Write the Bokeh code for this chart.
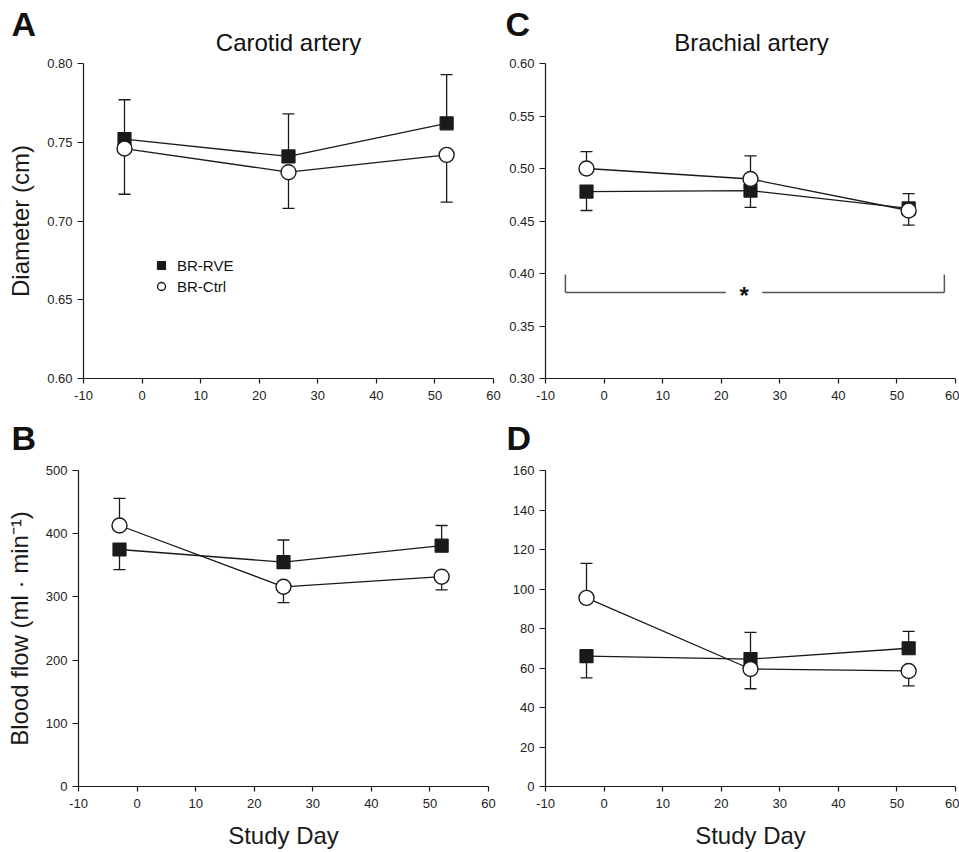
from bokeh.plotting import figure
from bokeh.layouts import column, row
from bokeh.models import Range1d, Label, Legend, LegendItem, FixedTicker, NumeralTickFormatter
from bokeh.embed import file_html
from bokeh.resources import INLINE

# ---------------- data ----------------
study_days = [-3, 25, 52]

# Panel A: carotid diameter (cm)
car_diam_rve = [0.752, 0.741, 0.762]
car_diam_rve_up = [0.025, 0.027, 0.031]
car_diam_rve_dn = [0.0, 0.0, 0.0]
car_diam_ctrl = [0.746, 0.731, 0.742]
car_diam_ctrl_up = [0.0, 0.0, 0.0]
car_diam_ctrl_dn = [0.029, 0.023, 0.030]

# Panel B: carotid blood flow (ml/min)
car_flow_rve = [375, 355, 381]
car_flow_rve_up = [0, 35, 32]
car_flow_rve_dn = [32, 0, 0]
car_flow_ctrl = [413, 316, 332]
car_flow_ctrl_up = [43, 0, 0]
car_flow_ctrl_dn = [0, 25, 21]

# Panel C: brachial diameter (cm)
bra_diam_rve = [0.478, 0.479, 0.462]
bra_diam_rve_up = [0.0, 0.0, 0.0]
bra_diam_rve_dn = [0.018, 0.016, 0.016]
bra_diam_ctrl = [0.500, 0.490, 0.460]
bra_diam_ctrl_up = [0.016, 0.022, 0.016]
bra_diam_ctrl_dn = [0.0, 0.0, 0.0]

# Panel D: brachial blood flow (ml/min)
bra_flow_rve = [66, 64.5, 70]
bra_flow_rve_up = [0, 13.5, 8.5]
bra_flow_rve_dn = [11, 0, 0]
bra_flow_ctrl = [95.5, 59.5, 58.5]
bra_flow_ctrl_up = [17.5, 0, 0]
bra_flow_ctrl_dn = [0, 10, 7.5]

x_ticks = [-10, 0, 10, 20, 30, 40, 50, 60]
diam_car_ticks = [0.60, 0.65, 0.70, 0.75, 0.80]
diam_bra_ticks = [0.30, 0.35, 0.40, 0.45, 0.50, 0.55, 0.60]
flow_car_ticks = [0, 100, 200, 300, 400, 500]
flow_bra_ticks = [0, 20, 40, 60, 80, 100, 120, 140, 160]

series_names = ["BR-RVE", "BR-Ctrl"]
panel_letters = ["A", "C", "B", "D"]
panel_titles = ["Carotid artery", "Brachial artery"]

# significance bracket in panel C (data coords)
sig_left, sig_right = -6.6, 58.1
sig_gap = (20.8, 27.0)
sig_y, sig_top = 0.382, 0.399
sig_star_x = 23.9

FONT = "Liberation Sans"
INK = "#1a1a1a"
TOTAL_W = 959


def make_fig(width, height, mbl, mbr, mbt, mbb, yr, yticks, yfmt, ylabel=None,
             xlabel=None):
    p = figure(width=width, height=height, x_range=Range1d(-10, 60),
               y_range=Range1d(*yr), output_backend="svg", toolbar_location=None,
               min_border_left=mbl, min_border_right=mbr, min_border_top=mbt,
               min_border_bottom=mbb)
    p.xgrid.visible = False
    p.ygrid.visible = False
    p.outline_line_color = None
    p.background_fill_color = "white"
    p.border_fill_color = "white"
    p.xaxis.ticker = FixedTicker(ticks=x_ticks)
    p.xaxis.formatter = NumeralTickFormatter(format="0")
    p.yaxis.ticker = FixedTicker(ticks=yticks)
    p.yaxis.formatter = NumeralTickFormatter(format=yfmt)
    for ax in (p.xaxis[0], p.yaxis[0]):
        ax.axis_line_color = INK
        ax.axis_line_width = 1.2
        ax.major_tick_line_color = INK
        ax.major_tick_line_width = 1.2
        ax.major_tick_in = 0
        ax.major_tick_out = 5
        ax.minor_tick_line_color = None
        ax.major_label_text_font = FONT
        ax.major_label_text_font_size = "13px"
        ax.major_label_text_color = "#222222"
        ax.axis_label_text_font = FONT
        ax.axis_label_text_font_size = "24px"
        ax.axis_label_text_font_style = "normal"
        ax.axis_label_text_color = INK
    p.yaxis.major_tick_out = 6
    p.yaxis.major_label_standoff = 5
    p.xaxis.major_label_standoff = 7
    if ylabel:
        p.yaxis.axis_label = ylabel
        p.yaxis.axis_label_standoff = 10
    if xlabel:
        p.xaxis.axis_label = xlabel
        p.xaxis.axis_label_standoff = 11
    return p


def draw_errors(p, ys, up, dn):
    lows = [y - d for y, d in zip(ys, dn)]
    highs = [y + u for y, u in zip(ys, up)]
    p.segment(x0=study_days, y0=lows, x1=study_days, y1=highs,
              line_color=INK, line_width=1.3)
    cap_x = [x for x, u in zip(study_days, up) if u > 0] + \
            [x for x, d in zip(study_days, dn) if d > 0]
    cap_y = [h for h, u in zip(highs, up) if u > 0] + \
            [l for l, d in zip(lows, dn) if d > 0]
    p.scatter(x=cap_x, y=cap_y, marker="dash", size=12, line_color=INK,
              line_width=1.3)


def panel(p, rve, rve_up, rve_dn, ctrl, ctrl_up, ctrl_dn):
    draw_errors(p, rve, rve_up, rve_dn)
    draw_errors(p, ctrl, ctrl_up, ctrl_dn)
    p.line(study_days, rve, line_color=INK, line_width=1.3)
    p.line(study_days, ctrl, line_color=INK, line_width=1.3)
    r1 = p.scatter(x=study_days, y=rve, marker="square", size=13,
                   fill_color=INK, line_color=INK, line_width=1.2)
    r2 = p.scatter(x=study_days, y=ctrl, marker="circle", size=15,
                   fill_color="white", line_color=INK, line_width=1.4)
    return r1, r2


def header(height, items):
    """A strip of free text (panel letters and titles) above a row of panels."""
    h = figure(width=TOTAL_W, height=height, x_range=Range1d(0, TOTAL_W),
               y_range=Range1d(height, 0), output_backend="svg",
               toolbar_location=None, x_axis_type=None, y_axis_type=None,
               min_border=0)
    h.xgrid.visible = False
    h.ygrid.visible = False
    h.outline_line_color = None
    h.background_fill_color = "white"
    h.border_fill_color = "white"
    for x, y, text, size, bold, align in items:
        h.add_layout(Label(x=x, y=y, text=text, text_font=FONT,
                           text_font_size=size,
                           text_font_style="bold" if bold else "normal",
                           text_color="#111111", text_align=align,
                           text_baseline="middle"))
    return h


# ---------------- header above A / C ----------------
head1 = header(55, [
    (11, 23, panel_letters[0], "34px", True, "left"),
    (288, 41.5, panel_titles[0], "24px", False, "center"),
    (505, 23, panel_letters[1], "34px", True, "left"),
    (751, 41.5, panel_titles[1], "24px", False, "center"),
])

# ---------------- panel A ----------------
pA = make_fig(505, 350, 83, 12, 8, 27, (0.60, 0.80), diam_car_ticks, "0.00",
              ylabel="Diameter (cm)")
rA1, rA2 = panel(pA, car_diam_rve, car_diam_rve_up, car_diam_rve_dn,
                 car_diam_ctrl, car_diam_ctrl_up, car_diam_ctrl_dn)
legend = Legend(items=[LegendItem(label=series_names[0], renderers=[rA1]),
                       LegendItem(label=series_names[1], renderers=[rA2])],
                location=(68, 82), background_fill_alpha=0, border_line_alpha=0,
                label_text_font=FONT, label_text_font_size="15px",
                label_text_color="#111111", glyph_width=20, glyph_height=20,
                spacing=1, padding=0, margin=0, label_standoff=6)
pA.add_layout(legend)

# ---------------- panel C ----------------
pC = make_fig(454, 350, 40, 4, 8, 27, (0.30, 0.60), diam_bra_ticks, "0.00")
panel(pC, bra_diam_rve, bra_diam_rve_up, bra_diam_rve_dn,
      bra_diam_ctrl, bra_diam_ctrl_up, bra_diam_ctrl_dn)
pC.segment(x0=[sig_left, sig_gap[1], sig_left, sig_right],
           y0=[sig_y, sig_y, sig_y, sig_y],
           x1=[sig_gap[0], sig_right, sig_left, sig_right],
           y1=[sig_y, sig_y, sig_top, sig_top],
           line_color="#555555", line_width=1.5)
pC.add_layout(Label(x=sig_star_x, y=sig_y, text="*", text_font=FONT,
                    text_font_size="24px", text_font_style="bold",
                    text_color="#111111", text_align="center",
                    text_baseline="middle", y_offset=-3))

# ---------------- header above B / D ----------------
head2 = header(58, [
    (11, 32, panel_letters[2], "34px", True, "left"),
    (506, 32, panel_letters[3], "34px", True, "left"),
])

# ---------------- panel B ----------------
pB = make_fig(505, 389, 78, 17, 7, 66, (0, 500), flow_car_ticks, "0",
              ylabel="Blood flow (ml \u00b7 min\u207b\u00b9)", xlabel="Study Day")
panel(pB, car_flow_rve, car_flow_rve_up, car_flow_rve_dn,
      car_flow_ctrl, car_flow_ctrl_up, car_flow_ctrl_dn)

# ---------------- panel D ----------------
pD = make_fig(454, 389, 40, 4, 7, 66, (0, 160), flow_bra_ticks, "0",
              xlabel="Study Day")
panel(pD, bra_flow_rve, bra_flow_rve_up, bra_flow_rve_dn,
      bra_flow_ctrl, bra_flow_ctrl_up, bra_flow_ctrl_dn)

layout = column(head1, row(pA, pC, spacing=0), head2, row(pB, pD, spacing=0),
                spacing=0)

open("out.html", "w").write(file_html(layout, INLINE))
